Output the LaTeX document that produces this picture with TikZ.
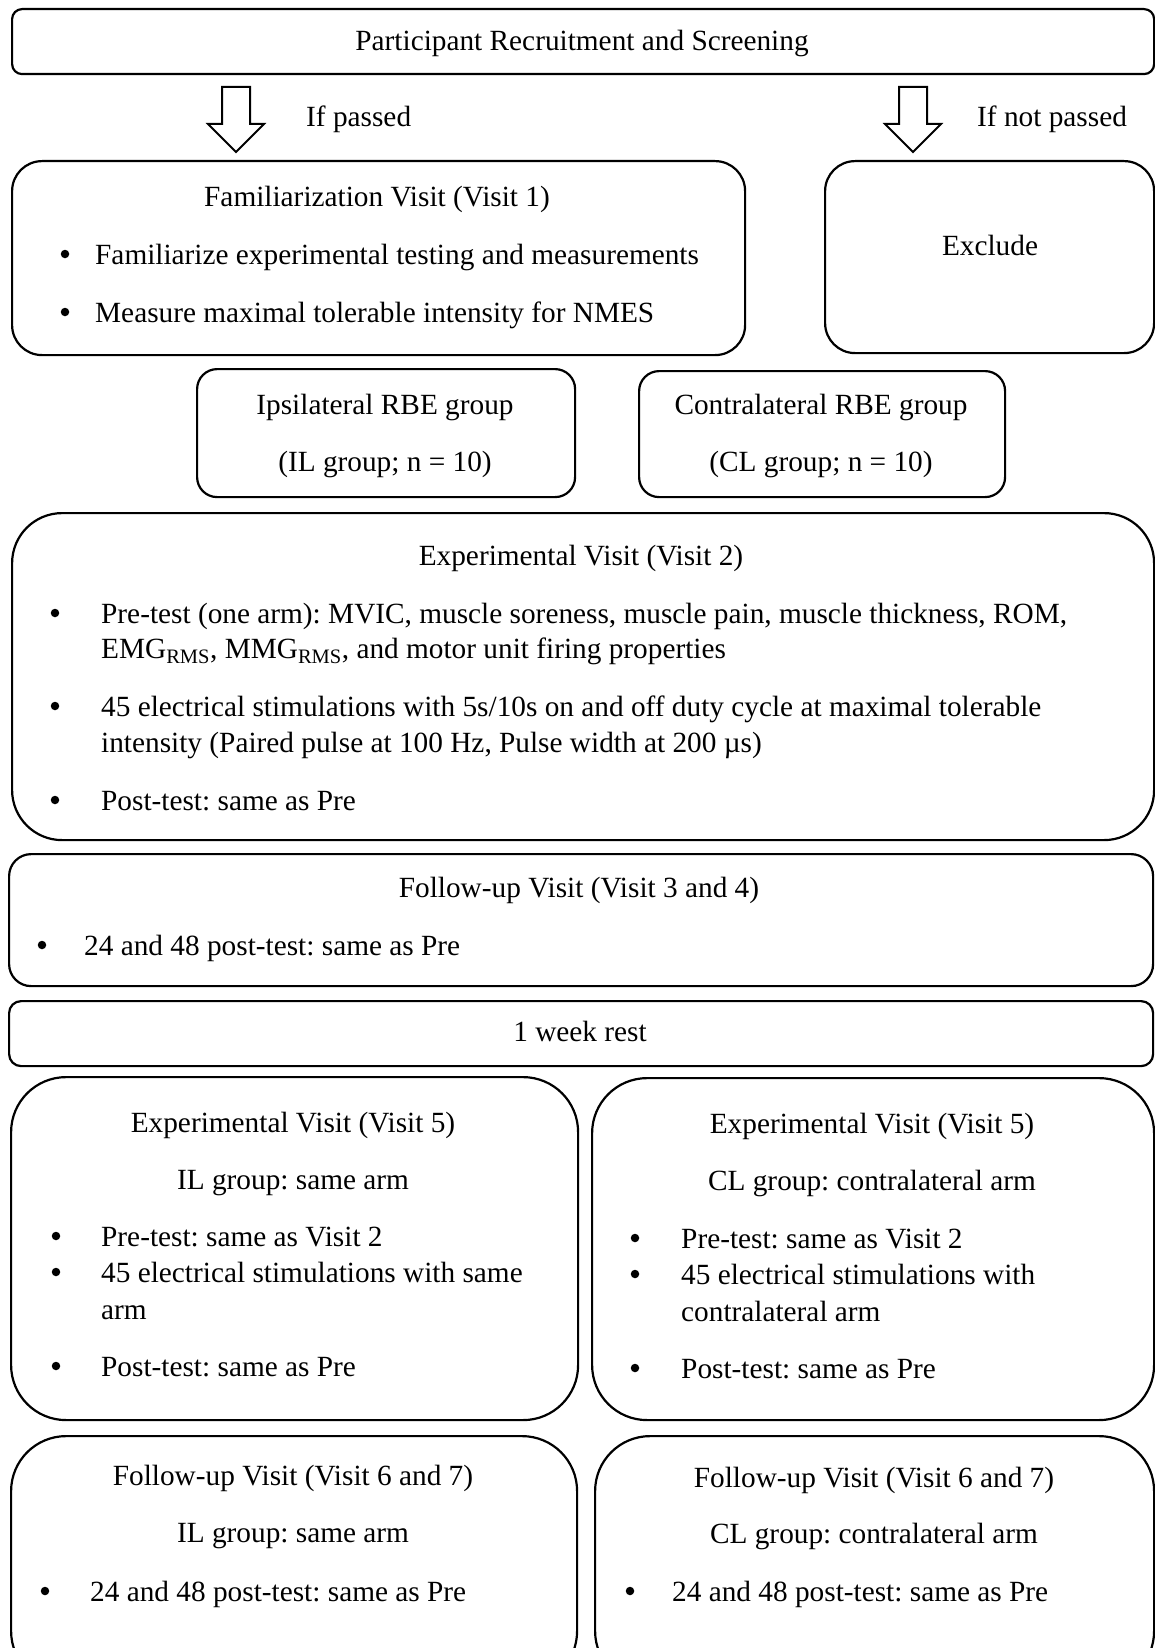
\documentclass[tikz,border=0pt]{standalone}
\usepackage{fontspec}
\setmainfont{Liberation Serif}
\usepackage{xcolor}
\usepackage{tikz}
\frenchspacing

\begin{document}
\begin{tikzpicture}[x=1pt,y=-1pt]
			\tikzstyle{box} = [draw, line width=2.2pt, anchor=north west, inner sep=0pt]
			\tikzstyle{title} = [anchor=base, inner sep=0pt]
			\tikzstyle{item} = [anchor=base west, inner sep=0pt]
			\tikzstyle{dot} = [circle, fill, inner sep=0pt, minimum size=8.5pt, yshift=10pt]
			\tikzset{hollow/.style = {draw, line width=2pt, line join=miter}}
			\tikzset{every node/.append style = {font=\fontsize{29.3}{35.5}\selectfont}}
			
			\clip (0,0) rectangle (1155,1648);
			
			\node[box, minimum width=1142pt, minimum height=65pt, rounded corners=10pt](recruit) at (11,8) {};
			\node[title](recruittext) at (582,51) {Participant Recruitment and Screening};
			
			\coordinate (passarrow) at (236,87);
			\draw[hollow] (passarrow) ++(-14,0) -- ++(28,0) -- ++(0,37) -- ++(14,0) -- ++(-28,28) -- ++(-28,-28) -- ++(14,0) -- cycle;
			\node[item](passed) at (306,127) {If passed};
			
			\coordinate (failarrow) at (913,87);
			\draw[hollow] (failarrow) ++(-14,0) -- ++(28,0) -- ++(0,37) -- ++(14,0) -- ++(-28,28) -- ++(-28,-28) -- ++(14,0) -- cycle;
			\node[item](notpassed) at (977,127) {If not passed};
			
			\node[box, minimum width=733pt, minimum height=194pt, rounded corners=30pt](famvisit) at (11,160) {};
			\node[title](famtitle) at (377,207) {Familiarization Visit (Visit 1)};
			\node[dot](famdot1) at (65,264) {};
			\node[item](famitem1) at (95,264) {Familiarize experimental testing and measurements};
			\node[dot](famdot2) at (65,322) {};
			\node[item](famitem2) at (95,322) {Measure maximal tolerable intensity for NMES};
			
			\node[box, minimum width=329pt, minimum height=192pt, rounded corners=30pt](exclude) at (824,160) {};
			\node[title](excludetext) at (990,255) {Exclude};
			
			\node[box, minimum width=378pt, minimum height=128pt, rounded corners=20pt](ilgroup) at (196,368) {};
			\node[title](iltitle) at (385,414) {Ipsilateral RBE group};
			\node[title](iln) at (385,471) {(IL group; n = 10)};
			
			\node[box, minimum width=366pt, minimum height=126pt, rounded corners=20pt](clgroup) at (638,370) {};
			\node[title](cltitle) at (821,414) {Contralateral RBE group};
			\node[title](cln) at (821,471) {(CL group; n = 10)};
			
			\node[box, minimum width=1142pt, minimum height=327pt, rounded corners=50pt](expvisit) at (11,512) {};
			\node[title](exptitle) at (581,565) {Experimental Visit (Visit 2)};
			\node[dot](expdot1) at (55,623) {};
			\node[item](expitem1a) at (101,623) {Pre-test (one arm): MVIC, muscle soreness, muscle pain, muscle thickness, ROM,};
			\node[item](expitem1b) at (101,658.5) {EMG\textsubscript{RMS}, MMG\textsubscript{RMS}, and motor unit firing properties};
			\node[dot](expdot2) at (55,716) {};
			\node[item](expitem2a) at (101,716) {45 electrical stimulations with 5s/10s on and off duty cycle at maximal tolerable};
			\node[item](expitem2b) at (101,752) {intensity (Paired pulse at 100 Hz, Pulse width at 200 µs)};
			\node[dot](expdot3) at (55,810) {};
			\node[item](expitem3) at (101,810) {Post-test: same as Pre};
			
			\node[box, minimum width=1144pt, minimum height=132pt, rounded corners=22pt](followup) at (8,853) {};
			\node[title](followtitle) at (579,897) {Follow-up Visit (Visit 3 and 4)};
			\node[dot](followdot) at (42,955) {};
			\node[item](followitem) at (84,955) {24 and 48 post-test: same as Pre};
			
			\node[box, minimum width=1144pt, minimum height=65pt, rounded corners=12pt](rest) at (8,1000) {};
			\node[title](resttext) at (580,1041) {1 week rest};
			
			\node[box, minimum width=567pt, minimum height=343pt, rounded corners=55pt](ilexp) at (10,1076) {};
			\node[title](ilexptitle) at (293,1132) {Experimental Visit (Visit 5)};
			\node[title](ilexparm) at (293,1189) {IL group: same arm};
			\node[dot](ilexpdot1) at (56,1246) {};
			\node[item](ilexpitem1) at (101,1246) {Pre-test: same as Visit 2};
			\node[dot](ilexpdot2) at (56,1282) {};
			\node[item](ilexpitem2a) at (101,1282) {45 electrical stimulations with same};
			\node[item](ilexpitem2b) at (101,1319) {arm};
			\node[dot](ilexpdot3) at (56,1376) {};
			\node[item](ilexpitem3) at (101,1376) {Post-test: same as Pre};
			
			\node[box, minimum width=562pt, minimum height=342pt, rounded corners=55pt](clexp) at (591,1077) {};
			\node[title](clexptitle) at (872,1133) {Experimental Visit (Visit 5)};
			\node[title](clexparm) at (872,1190) {CL group: contralateral arm};
			\node[dot](clexpdot1) at (635,1248) {};
			\node[item](clexpitem1) at (681,1248) {Pre-test: same as Visit 2};
			\node[dot](clexpdot2) at (635,1284) {};
			\node[item](clexpitem2a) at (681,1284) {45 electrical stimulations with};
			\node[item](clexpitem2b) at (681,1321) {contralateral arm};
			\node[dot](clexpdot3) at (635,1378) {};
			\node[item](clexpitem3) at (681,1378) {Post-test: same as Pre};
			
			\node[box, minimum width=566pt, minimum height=250pt, rounded corners=55pt](ilfollow) at (10,1435) {};
			\node[title](ilfollowtitle) at (293,1485) {Follow-up Visit (Visit 6 and 7)};
			\node[title](ilfollowarm) at (293,1542) {IL group: same arm};
			\node[dot](ilfollowdot) at (45,1601) {};
			\node[item](ilfollowitem) at (90,1601) {24 and 48 post-test: same as Pre};
			
			\node[box, minimum width=559pt, minimum height=250pt, rounded corners=55pt](clfollow) at (594,1435) {};
			\node[title](clfollowtitle) at (874,1487) {Follow-up Visit (Visit 6 and 7)};
			\node[title](clfollowarm) at (874,1543) {CL group: contralateral arm};
			\node[dot](clfollowdot) at (630,1601) {};
			\node[item](clfollowitem) at (672,1601) {24 and 48 post-test: same as Pre};
			
			\end{tikzpicture}
\end{document}
